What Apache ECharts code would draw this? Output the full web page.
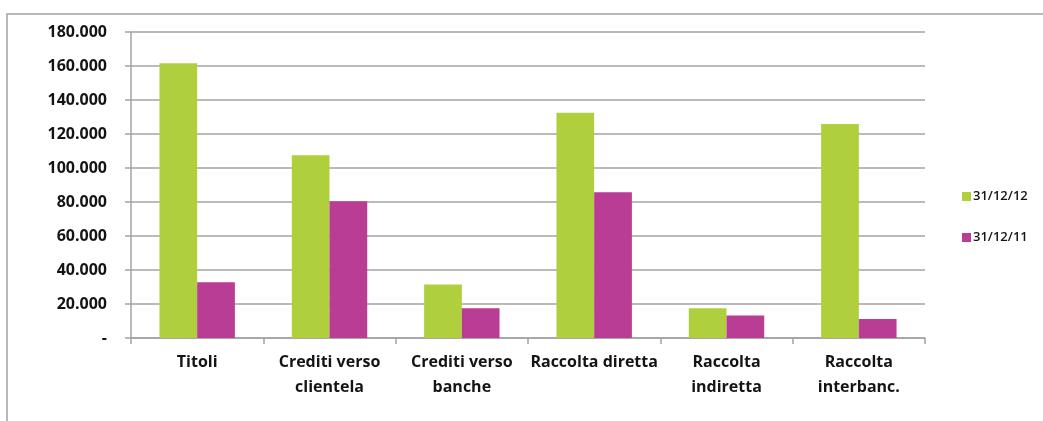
<!DOCTYPE html>
<html>
<head>
<meta charset="utf-8">
<script src="https://cdn.jsdelivr.net/npm/echarts@6/dist/echarts.min.js"></script>
<style>
  html, body { margin: 0; padding: 0; background: #ffffff; }
  #chart { width: 1043px; height: 421px; }
</style>
</head>
<body>
<div id="chart"></div>
<script>
// Categories and values (in thousands)
const categories = ['Titoli', 'Crediti verso\nclientela', 'Crediti verso\nbanche', 'Raccolta diretta', 'Raccolta\nindiretta', 'Raccolta\ninterbanc.'];
const seriesNames = ['31/12/12', '31/12/11'];
const values2012 = [161600, 107500, 31400, 132500, 17500, 125900];
const values2011 = [32800, 80400, 17500, 85700, 13300, 11200];
const yTicks = [0, 20000, 40000, 60000, 80000, 100000, 120000, 140000, 160000, 180000];

const GREEN = '#AFCF3D';
const PINK = '#B93C95';
const TEXT = '#141414';
const LINE = '#a3a3a3';
const FONT = '"Open Sans", Lato, sans-serif';

function fmt(v) {
  if (v === 0) return '-';
  return String(v).replace(/\B(?=(\d{3})+(?!\d))/g, '.');
}

const chart = echarts.init(document.getElementById('chart'), null, { renderer: 'canvas' });

chart.setOption({
  animation: false,
  backgroundColor: '#ffffff',
  graphic: [
    {
      type: 'polyline',
      shape: { points: [[7, 430], [7, 14], [1050, 14]] },
      style: { stroke: LINE, lineWidth: 1.5, fill: null },
      silent: true
    }
  ],
  grid: { left: 131, right: 118, top: 32, bottom: 83, containLabel: false },
  legend: {
    orient: 'vertical',
    left: 957,
    top: 185,
    itemWidth: 9,
    itemHeight: 9,
    itemGap: 28,
    icon: 'rect',
    data: seriesNames,
    textStyle: { color: TEXT, fontSize: 13, fontWeight: 600, fontFamily: FONT, padding: [0, 0, 0, -3] }
  },
  xAxis: {
    type: 'category',
    data: categories,
    axisLine: { lineStyle: { color: LINE, width: 1.5 } },
    axisTick: { show: true, length: 6, lineStyle: { color: LINE, width: 1.5 } },
    axisLabel: {
      color: TEXT,
      fontSize: 16,
      fontWeight: 'bold',
      fontFamily: FONT,
      lineHeight: 25,
      margin: 12,
      interval: 0
    }
  },
  yAxis: {
    type: 'value',
    min: 0,
    max: 180000,
    interval: 20000,
    axisLine: { show: true, lineStyle: { color: LINE, width: 1.5 } },
    axisTick: { show: true, length: 6, lineStyle: { color: LINE, width: 1.5 } },
    splitLine: { show: true, lineStyle: { color: LINE, width: 1.5 } },
    axisLabel: {
      color: TEXT,
      fontSize: 16,
      fontWeight: 'bold',
      fontFamily: FONT,
      margin: 24,
      formatter: function (v) { return yTicks.indexOf(v) >= 0 ? fmt(v) : ''; }
    }
  },
  series: [
    {
      name: seriesNames[0],
      type: 'bar',
      data: values2012,
      itemStyle: { color: GREEN },
      barGap: '0%',
      barCategoryGap: '43%'
    },
    {
      name: seriesNames[1],
      type: 'bar',
      data: values2011,
      itemStyle: { color: PINK },
      barGap: '0%',
      barCategoryGap: '43%'
    }
  ]
});
</script>
</body>
</html>
